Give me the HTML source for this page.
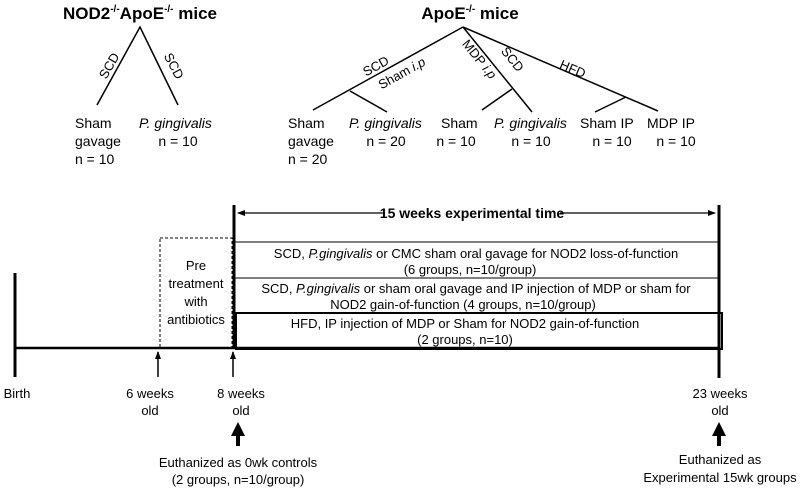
<!DOCTYPE html>
<html><head><meta charset="utf-8"><style>
html,body{margin:0;padding:0;background:#fff;}
svg{display:block;font-family:"Liberation Sans",Arial,sans-serif;}
</style></head><body>
<svg width="810" height="490" viewBox="0 0 810 490" xmlns="http://www.w3.org/2000/svg">
<defs>
<marker id="ah" markerWidth="8" markerHeight="8" refX="7" refY="4" orient="auto" markerUnits="userSpaceOnUse"><path d="M0,1 L8,4 L0,7 Z" fill="#000"/></marker>
</defs>
<g fill="#000" font-size="14">
<!-- Left tree -->
<text x="140" y="19" text-anchor="middle" font-weight="bold" font-size="17">NOD2<tspan font-size="10" dy="-7">-/-</tspan><tspan dy="7">ApoE</tspan><tspan font-size="10" dy="-7">-/-</tspan><tspan dy="7"> mice</tspan></text>
<path d="M97,105 L140,27 L178,105" stroke="#000" stroke-width="1.5" fill="none"/>
<text x="113" y="68" text-anchor="middle" font-size="13" transform="rotate(-60 113 68)">SCD</text>
<text x="170" y="68" text-anchor="middle" font-size="13" transform="rotate(62 170 68)">SCD</text>
<text x="75" y="128">Sham</text><text x="75" y="146">gavage</text><text x="75" y="164">n = 10</text>
<text x="139" y="128" font-style="italic">P. gingivalis</text>
<text x="178" y="146" text-anchor="middle">n = 10</text>

<!-- Right tree -->
<text x="470" y="19" text-anchor="middle" font-weight="bold" font-size="17">ApoE<tspan font-size="10" dy="-7">-/-</tspan><tspan dy="7"> mice</tspan></text>
<g stroke="#000" stroke-width="1.5" fill="none">
<path d="M463,27 L313,110"/><path d="M350,91 L387,112"/>
<path d="M463,27 L532,112"/><path d="M512,89 L482,110"/>
<path d="M463,27 L658,111"/><path d="M626,97 L595,112"/>
</g>
<text x="378" y="70" text-anchor="middle" font-size="13" transform="rotate(-29 378 70)">SCD</text>
<text x="404" y="77" text-anchor="middle" font-size="13" transform="rotate(-29 404 77)">Sham <tspan font-style="italic">i.p</tspan></text>
<text x="476" y="62" text-anchor="middle" font-size="13" transform="rotate(51 476 62)">MDP <tspan font-style="italic">i.p</tspan></text>
<text x="509" y="62" text-anchor="middle" font-size="13" transform="rotate(51 509 62)">SCD</text>
<text x="571" y="73" text-anchor="middle" font-size="13" transform="rotate(23 571 73)">HFD</text>
<text x="288" y="128">Sham</text><text x="288" y="146">gavage</text><text x="288" y="164">n = 20</text>
<text x="349" y="128" font-style="italic">P. gingivalis</text><text x="386" y="146" text-anchor="middle">n = 20</text>
<text x="441" y="128">Sham</text><text x="456" y="146" text-anchor="middle">n = 10</text>
<text x="494" y="128" font-style="italic">P. gingivalis</text><text x="531" y="146" text-anchor="middle">n = 10</text>
<text x="580" y="128">Sham IP</text><text x="612" y="146" text-anchor="middle">n = 10</text>
<text x="647" y="128">MDP IP</text><text x="676" y="146" text-anchor="middle">n = 10</text>
</g>

<!-- Timeline -->
<g stroke="#000" fill="none">
<line x1="15" y1="348" x2="720" y2="348" stroke-width="2.5"/>
<line x1="15" y1="273" x2="15" y2="377" stroke-width="3"/>
<line x1="234" y1="205" x2="234" y2="348" stroke-width="3"/>
<line x1="719" y1="205" x2="719" y2="378" stroke-width="3"/>
<line x1="234" y1="242" x2="719" y2="242" stroke-width="1"/>
<line x1="234" y1="278" x2="719" y2="278" stroke-width="1"/>
<rect x="236" y="313" width="486" height="36" stroke-width="2"/>
<rect x="160" y="238" width="72" height="110" stroke-width="1" stroke-dasharray="3,2"/>
<line x1="384" y1="213" x2="238" y2="213" stroke-width="1.2" marker-end="url(#ah)"/>
<line x1="560" y1="213" x2="715" y2="213" stroke-width="1.2" marker-end="url(#ah)"/>
<line x1="158" y1="377" x2="158" y2="352" stroke-width="1.5" marker-end="url(#ah)"/>
<line x1="233" y1="377" x2="233" y2="352" stroke-width="1.5" marker-end="url(#ah)"/>
</g>
<path d="M238,422 L231,436 L236,436 L236,446 L240,446 L240,436 L245,436 Z" fill="#000"/>
<path d="M719,422 L712,436 L717,436 L717,446 L721,446 L721,436 L726,436 Z" fill="#000"/>

<g fill="#000" font-size="13" text-anchor="middle">
<text x="472" y="218" font-weight="bold" font-size="14">15 weeks experimental time</text>
<text x="476" y="258">SCD, <tspan font-style="italic">P.gingivalis</tspan> or CMC sham oral gavage for NOD2 loss-of-function</text>
<text x="470" y="274">(6 groups, n=10/group)</text>
<text x="476" y="293">SCD, <tspan font-style="italic">P.gingivalis</tspan> or sham oral gavage and  IP injection of MDP or sham for</text>
<text x="463" y="309">NOD2 gain-of-function (4 groups, n=10/group)</text>
<text x="465" y="328">HFD, IP injection of  MDP or Sham for NOD2 gain-of-function</text>
<text x="465" y="344">(2 groups, n=10)</text>
<text x="196" y="270">Pre</text>
<text x="196" y="288">treatment</text>
<text x="196" y="306">with</text>
<text x="196" y="324">antibiotics</text>
<text x="17" y="398">Birth</text>
<text x="150" y="398">6 weeks</text><text x="150" y="415">old</text>
<text x="241" y="398">8 weeks</text><text x="241" y="415">old</text>
<text x="720" y="398">23 weeks</text><text x="720" y="415">old</text>
<text x="238" y="467">Euthanized as 0wk controls</text>
<text x="238" y="484">(2 groups, n=10/group)</text>
<text x="720" y="464">Euthanized as</text>
<text x="720" y="482">Experimental 15wk groups</text>
</g>
</svg>
</body></html>
